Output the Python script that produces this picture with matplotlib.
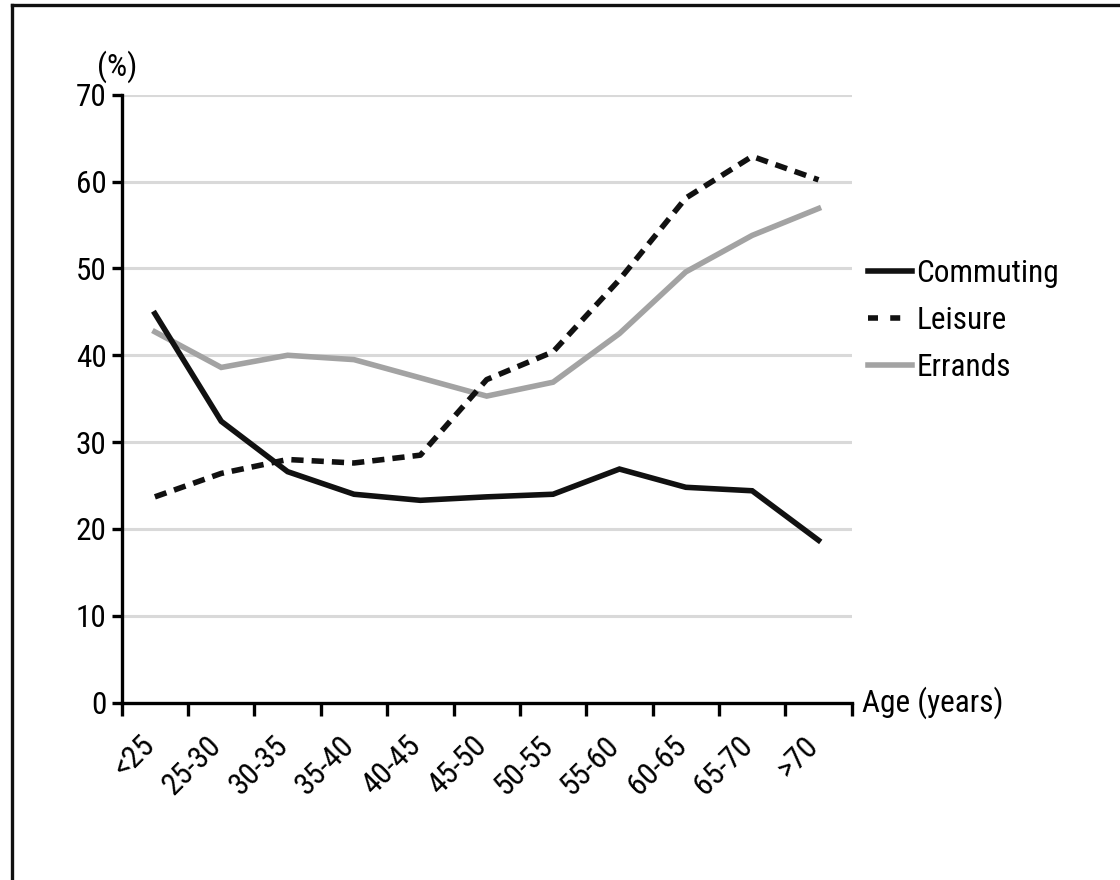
import matplotlib
matplotlib.use("Agg")
import matplotlib.pyplot as plt
import matplotlib.transforms as mtransforms
from matplotlib.lines import Line2D
from matplotlib import font_manager
import numpy as np

available = {f.name for f in font_manager.fontManager.ttflist}
candidates = ['Roboto Condensed', 'Liberation Sans', 'DejaVu Sans']
fams = [c for c in candidates if c in available] + ['DejaVu Sans']
plt.rcParams['font.family'] = fams
plt.rcParams['font.stretch'] = 'condensed'

categories = ["<25", "25-30", "30-35", "35-40", "40-45", "45-50",
              "50-55", "55-60", "60-65", "65-70", ">70"]
commuting = [44.8, 32.4, 26.6, 24.0, 23.3, 23.7, 24.0, 26.9, 24.8, 24.4, 18.7]
leisure = [23.7, 26.4, 28.0, 27.6, 28.5, 37.2, 40.4, 48.7, 58.1, 62.9, 60.2]
errands = [42.7, 38.6, 40.0, 39.5, 37.4, 35.3, 36.9, 42.5, 49.6, 53.8, 56.9]
series_names = ["Commuting", "Leisure", "Errands"]
yticks = [0, 10, 20, 30, 40, 50, 60, 70]

fig = plt.figure(figsize=(11.2, 8.8), dpi=100)
ax = fig.add_axes([121.7/1120, 177.3/880, 730/1120, 608/880])

x = np.arange(len(categories)) + 0.5
lw = 4.0
dash = (0, (2.2, 1.45))
ax.plot(x, errands, color="#a3a3a3", lw=lw, solid_joinstyle="miter", zorder=3)
ax.plot(x, leisure, color="#111111", lw=lw, linestyle=dash, zorder=4)
ax.plot(x, commuting, color="#111111", lw=lw, solid_joinstyle="miter", zorder=5)

ax.set_xlim(0, len(categories))
ax.set_ylim(0, 70)
ax.set_yticks(yticks)
ax.set_yticklabels([str(v) for v in yticks])
for v in yticks[1:]:
    ax.axhline(v, color="#d9d9d9", lw=2.2, zorder=1)

ax.set_xticks(np.arange(len(categories) + 1))
ax.set_xticklabels([])
ax.set_xticks(x, minor=True)
ax.set_xticklabels(categories, minor=True, rotation=45, ha="right", va="top")
ax.tick_params(axis="x", which="minor", length=0, pad=20, labelsize=22.5)
ax.tick_params(axis="x", which="major", length=9, width=2.4, direction="out")
ax.tick_params(axis="y", length=7, width=2.4, pad=4, labelsize=22.5)
offset = mtransforms.ScaledTranslation(6/100, 0, fig.dpi_scale_trans)
for lab in ax.get_xticklabels(minor=True):
    lab.set_transform(lab.get_transform() + offset)

for s in ["top", "right"]:
    ax.spines[s].set_visible(False)
for s in ["left", "bottom"]:
    ax.spines[s].set_linewidth(2.4)

fig.text(117/1120, 1 - 67/880, "(%)", ha="center", va="center", fontsize=23)
fig.text(862/1120, 1 - 703/880, "Age (years)", ha="left", va="center", fontsize=22.5)

handles = [Line2D([], [], color="#111111", lw=lw),
           Line2D([], [], color="#111111", lw=lw, linestyle=(0, (1.8, 2.2))),
           Line2D([], [], color="#a3a3a3", lw=lw)]
fig.legend(handles, series_names, loc="upper left",
           bbox_to_anchor=(868/1120, 1 - 259/880), frameon=False,
           fontsize=22.5, handlelength=1.4, handletextpad=0.15,
           labelspacing=0.58, borderpad=0, borderaxespad=0)

# frame lines (left and top)
fig.add_artist(Line2D([12/1120, 12/1120], [0, 1 - 5/880], color="#111111", lw=2.4,
                      transform=fig.transFigure))
fig.add_artist(Line2D([12/1120, 1], [1 - 5/880, 1 - 5/880], color="#111111", lw=2.4,
                      transform=fig.transFigure))

fig.savefig("out.png", dpi=100, facecolor="white")
